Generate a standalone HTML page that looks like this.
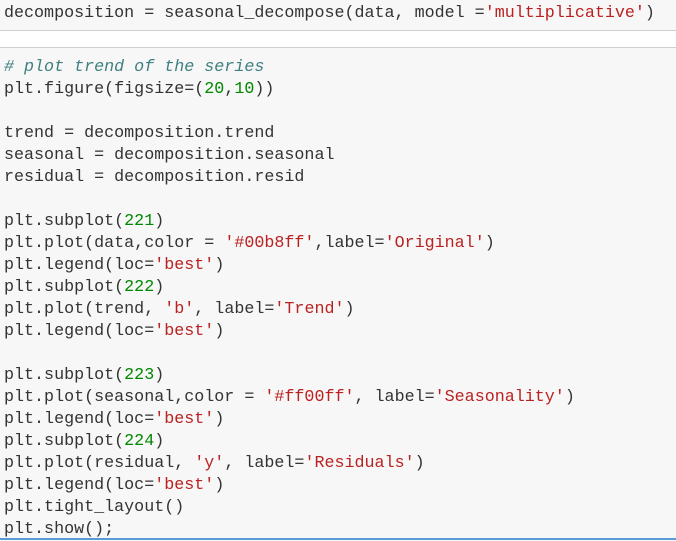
<!DOCTYPE html>
<html><head><meta charset="utf-8"><style>
html,body{margin:0;padding:0;width:676px;height:541px;overflow:hidden;background:#f7f7f7;}
.top{position:absolute;left:0;top:0;width:676px;height:30px;background:#f7f7f7;border-bottom:1px solid #cfcfcf;}
.gap{position:absolute;left:0;top:31px;width:676px;height:16px;background:#fff;border-bottom:1px solid #cfcfcf;}
.bot{position:absolute;left:0;top:538px;width:676px;height:2px;background:#5b9bd5;}
pre{position:absolute;left:4px;margin:0;font-family:"Liberation Mono",monospace;font-size:16.7px;line-height:22px;color:#333;}
.c{color:#408080;font-style:italic}.n{color:#080}.s{color:#ba2121}
</style></head><body>
<div class="top"></div><div class="gap"></div><div class="bot"></div>
<pre style="top:3px">decomposition = seasonal_decompose(data, model =<span class="s">'multiplicative'</span>)</pre>
<pre style="top:57px"><span class="c"># plot trend of the series</span>
plt.figure(figsize=(<span class="n">20</span>,<span class="n">10</span>))

trend = decomposition.trend
seasonal = decomposition.seasonal
residual = decomposition.resid

plt.subplot(<span class="n">221</span>)
plt.plot(data,color = <span class="s">'#00b8ff'</span>,label=<span class="s">'Original'</span>)
plt.legend(loc=<span class="s">'best'</span>)
plt.subplot(<span class="n">222</span>)
plt.plot(trend, <span class="s">'b'</span>, label=<span class="s">'Trend'</span>)
plt.legend(loc=<span class="s">'best'</span>)

plt.subplot(<span class="n">223</span>)
plt.plot(seasonal,color = <span class="s">'#ff00ff'</span>, label=<span class="s">'Seasonality'</span>)
plt.legend(loc=<span class="s">'best'</span>)
plt.subplot(<span class="n">224</span>)
plt.plot(residual, <span class="s">'y'</span>, label=<span class="s">'Residuals'</span>)
plt.legend(loc=<span class="s">'best'</span>)
plt.tight_layout()
plt.show();</pre>
</body></html>
